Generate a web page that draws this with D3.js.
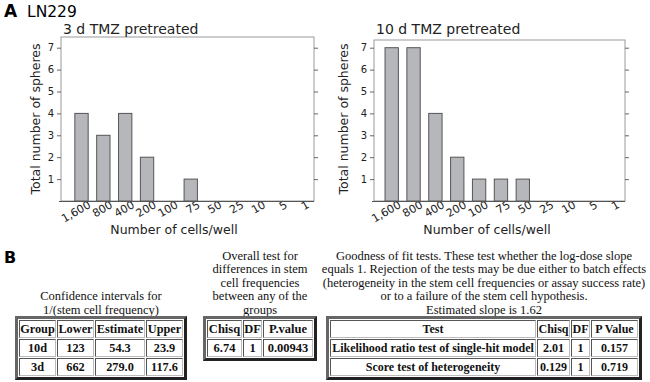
<!DOCTYPE html>
<html lang="en">
<head>
<meta charset="UTF-8">
<title>LN229 sphere formation</title>
<style>
    body { margin: 0; background: #fff; }
    #fig { position: relative; width: 650px; height: 382px; overflow: hidden; }
    #fig svg { position: absolute; left: 0; top: 0; }
    .panel text { font-family: "DejaVu Sans", Verdana, sans-serif; fill: #222; }
    .cap {
        position: absolute;
        font-family: "Liberation Serif", "Times New Roman", serif;
        font-size: 12.5px;
        line-height: 13.4px;
        text-align: center;
        color: #111;
        white-space: nowrap;
    }
    table.res {
        position: absolute;
        border-collapse: separate;
        border-spacing: 1px;
        table-layout: fixed;
        border: 3px solid;
        border-color: #666 #222 #222 #666;
        font-family: "Liberation Serif", "Times New Roman", serif;
        font-weight: bold;
        color: #111;
    }
    table.res td {
        box-sizing: border-box;
        border: 1px solid;
        border-color: #555 #bbb #bbb #555;
        padding: 1px 0;
        line-height: 14px;
        text-align: center;
        white-space: nowrap;
    }
</style>
</head>
<body>
<div id="fig"></div>
<script src="https://cdnjs.cloudflare.com/ajax/libs/d3/7.8.5/d3.min.js"></script>
<script>
    // cells seeded per well -> total spheres counted
    var categories = ["1,600", "800", "400", "200", "100", "75", "50", "25", "10", "5", "1"];
    var spheres3d = [4, 3, 4, 2, 0, 1, 0, 0, 0, 0, 0];
    var spheres10d = [7, 7, 4, 2, 1, 1, 1, 0, 0, 0, 0];
    var yTicks = [1, 2, 3, 4, 5, 6, 7];

    // ELDA output tables
    var ciCaption = ["Confidence intervals for", "1/(stem cell frequency)"];
    var ciHeader = ["Group", "Lower", "Estimate", "Upper"];
    var ciRows = [["10d", "123", "54.3", "23.9"], ["3d", "662", "279.0", "117.6"]];

    var overallCaption = ["Overall test for", "differences in stem", "cell frequencies", "between any of the", "groups"];
    var overallHeader = ["Chisq", "DF", "P.value"];
    var overallRows = [["6.74", "1", "0.00943"]];

    var gofCaption = ["Goodness of fit tests. These test whether the log-dose slope",
        "equals 1. Rejection of the tests may be due either to batch effects",
        "(heterogeneity in the stem cell frequencies or assay success rate)",
        "or to a failure of the stem cell hypothesis.",
        "Estimated slope is 1.62"];
    var gofHeader = ["Test", "Chisq", "DF", "P Value"];
    var gofRows = [["Likelihood ratio test of single-hit model", "2.01", "1", "0.157"],
        ["Score test of heterogeneity", "0.129", "1", "0.719"]];

    var W = 650, H = 382;
    var fig = d3.select("#fig");
    var svg = fig.append("svg").attr("width", W).attr("height", H);

    svg.append("text").attr("x", 4).attr("y", 17)
        .style("font", "bold 17px 'DejaVu Sans', sans-serif").text("A");
    svg.append("text").attr("x", 27).attr("y", 17)
        .style("font", "15.5px 'DejaVu Sans', sans-serif").text("LN229");
    svg.append("text").attr("x", 4).attr("y", 263)
        .style("font", "bold 16px 'DejaVu Sans', sans-serif").text("B");

    var base = 201;   // pixel row of the x axis
    var y = d3.scaleLinear().domain([0, 7]).range([base, 47.7]);
    var step = 21.85;

    var panels = [
        {title: "3 d TMZ pretreated", values: spheres3d, left: 61, right: 314, top: 37, first: 81.5, ytx: 40, xtx: 174},
        {title: "10 d TMZ pretreated", values: spheres10d, left: 374, right: 625, top: 40, first: 391.7, ytx: 348, xtx: 487}
    ];

    panels.forEach(function (p) {
        var g = svg.append("g").attr("class", "panel");

        var x = d3.scaleBand().domain(categories)
            .range([p.first - step / 2, p.first - step / 2 + step * categories.length])
            .paddingInner(0.39).paddingOuter(0.195);

        // frame
        g.append("rect")
            .attr("x", p.left).attr("y", p.top)
            .attr("width", p.right - p.left).attr("height", base - p.top)
            .attr("fill", "none").attr("stroke", "#9a9a9a");

        // bars
        g.selectAll(".bar")
            .data(p.values)
            .enter().append("rect")
            .attr("class", "bar")
            .attr("x", function (d, i) { return x(categories[i]); })
            .attr("width", x.bandwidth())
            .attr("y", function (d) { return y(d); })
            .attr("height", function (d) { return base - y(d); })
            .attr("fill", "#b6b7ba")
            .attr("stroke", "#555")
            .attr("stroke-width", 1)
            .style("display", function (d) { return d > 0 ? null : "none"; });

        // left axis
        var ly = g.append("g").attr("transform", "translate(" + p.left + ",0)")
            .call(d3.axisLeft(y).tickValues(yTicks).tickSize(4).tickPadding(3).tickFormat(d3.format("d")));
        ly.select(".domain").remove();
        ly.selectAll("line").attr("stroke", "#666");
        ly.selectAll("text").style("font-size", "10px");

        // right axis (ticks only)
        var ry = g.append("g").attr("transform", "translate(" + p.right + ",0)")
            .call(d3.axisRight(y).tickValues(yTicks).tickSize(4).tickFormat(""));
        ry.select(".domain").remove();
        ry.selectAll("line").attr("stroke", "#666");

        // bottom axis
        var bx = g.append("g").attr("transform", "translate(0," + base + ")")
            .call(d3.axisBottom(x).tickSize(0));
        bx.select(".domain").remove();
        bx.selectAll("text")
            .attr("y", 0).attr("dy", 0)
            .attr("text-anchor", "end")
            .attr("transform", "translate(10,6) rotate(-30)")
            .style("font-size", "11px");
        g.append("line")
            .attr("x1", p.left - 2).attr("x2", p.right)
            .attr("y1", base + 0.5).attr("y2", base + 0.5)
            .attr("stroke", "#555");

        // titles
        g.append("text").attr("x", p.left + 2).attr("y", 34)
            .style("font-size", "14px").text(p.title);
        g.append("text")
            .attr("transform", "translate(" + p.ytx + ",119) rotate(-90)")
            .attr("text-anchor", "middle")
            .style("font-size", "12.5px")
            .text("Total number of spheres");
        g.append("text").attr("x", p.xtx).attr("y", 234)
            .attr("text-anchor", "middle")
            .style("font-size", "12.5px")
            .text("Number of cells/well");
    });

    // result tables
    function drawTable(opt) {
        var tableTop = 316;
        fig.append("div").attr("class", "cap")
            .style("left", (opt.left - 10) + "px")
            .style("width", (opt.width + 20) + "px")
            .style("top", (tableTop - opt.caption.length * 13.4 + 1) + "px")
            .selectAll("div")
            .data(opt.caption)
            .enter().append("div")
            .text(function (d) { return d; });

        var t = fig.append("table").attr("class", "res")
            .style("left", opt.left + "px")
            .style("top", tableTop + "px")
            .style("width", opt.width + "px")
            .style("font-size", opt.font + "px");

        var rows = [opt.header].concat(opt.rows);
        t.selectAll("tr")
            .data(rows)
            .enter().append("tr")
            .selectAll("td")
            .data(function (r) { return r; })
            .enter().append("td")
            .style("width", function (d, i) { return opt.cols[i] + "px"; })
            .text(function (d) { return d; });
    }

    drawTable({caption: ciCaption, header: ciHeader, rows: ciRows,
        left: 15, width: 172, cols: [37, 37, 50, 37], font: 12.3});
    drawTable({caption: overallCaption, header: overallHeader, rows: overallRows,
        left: 203, width: 114, cols: [35, 19, 50], font: 12.5});
    drawTable({caption: gofCaption, header: gofHeader, rows: gofRows,
        left: 326, width: 316, cols: [206, 33, 19, 47], font: 12});
</script>
</body>
</html>
